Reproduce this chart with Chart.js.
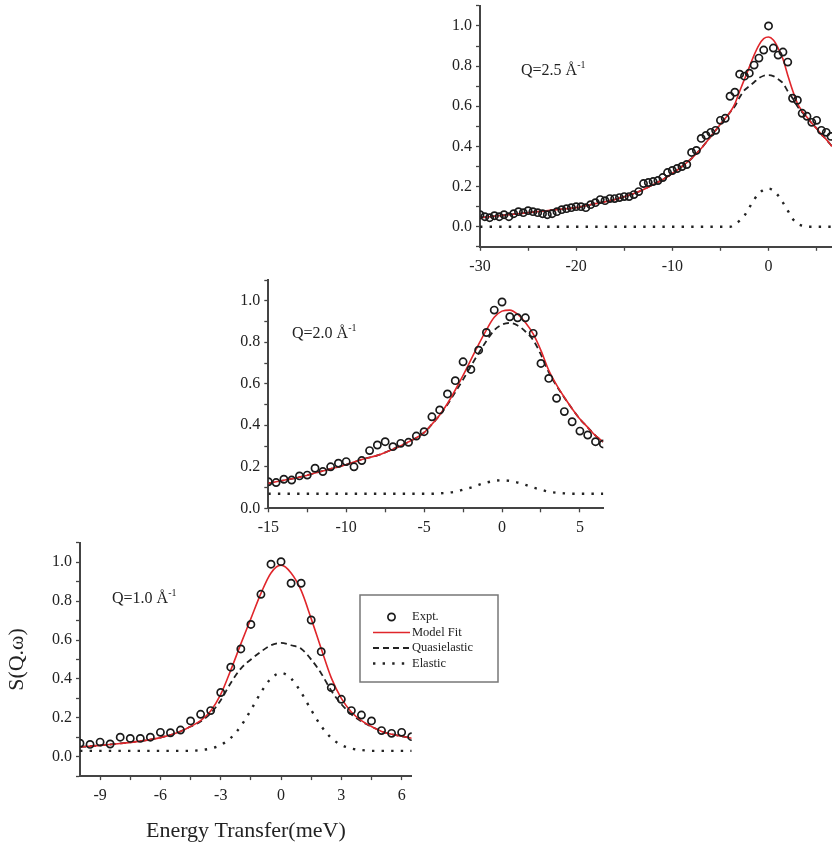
<!DOCTYPE html>
<html><head><meta charset="utf-8">
<script src="https://cdn.jsdelivr.net/npm/chart.js@4.4.1/dist/chart.umd.min.js"></script>
<style>
html,body{margin:0;padding:0;background:#fff;width:832px;height:848px;overflow:hidden;position:relative;}
canvas{position:absolute;}
.qlab{position:absolute;font-family:"Liberation Serif",serif;font-size:16px;color:#222;white-space:nowrap;line-height:16px;}
.qlab sup{font-size:10px;line-height:0;position:relative;top:-1px;}
</style></head><body>
<canvas id="c1" width="412" height="290" style="left:420px;top:-10px"></canvas>
<canvas id="c2" width="420" height="280" style="left:200px;top:260px"></canvas>
<canvas id="c3" width="520" height="318" style="left:0px;top:530px"></canvas>
<div class="qlab" style="left:521px;top:62px">Q=2.5 Å<sup>-1</sup></div>
<div class="qlab" style="left:292px;top:325px">Q=2.0 Å<sup>-1</sup></div>
<div class="qlab" style="left:112px;top:590px">Q=1.0 Å<sup>-1</sup></div>
<script>
// ---------- Q = 2.5 Å-1 ----------
const q25_energy = [-30,-29.5,-29,-28.5,-28,-27.5,-27,-26.5,-26,-25.5,-25,-24.5,-24,-23.5,-23,-22.5,-22,-21.5,-21,-20.5,-20,-19.5,-19,-18.5,-18,-17.5,-17,-16.5,-16,-15.5,-15,-14.5,-14,-13.5,-13,-12.5,-12,-11.5,-11,-10.5,-10,-9.5,-9,-8.5,-8,-7.5,-7,-6.5,-6,-5.5,-5,-4.5,-4,-3.5,-3,-2.5,-2,-1.5,-1,-0.5,0,0.5,1,1.5,2,2.5,3,3.5,4,4.5,5,5.5,6,6.5];
const q25_expt = [0.06,0.05,0.045,0.055,0.05,0.06,0.05,0.065,0.075,0.07,
  0.08,0.075,0.07,0.065,0.06,0.065,0.075,0.085,0.09,0.095,
  0.1,0.1,0.095,0.11,0.12,0.135,0.13,0.14,0.14,0.145,
  0.15,0.15,0.16,0.175,0.215,0.22,0.225,0.23,0.245,0.27,
  0.28,0.29,0.3,0.31,0.37,0.38,0.44,0.455,0.47,0.48,
  0.53,0.54,0.65,0.67,0.76,0.75,0.765,0.805,0.84,0.88,
  1.0,0.89,0.855,0.87,0.82,0.64,0.63,0.565,0.55,0.52,
  0.53,0.48,0.47,0.45];
const q25_fitEnergy = [-30,-28,-26,-24,-22,-20,-18,-16,-14,-13,-12,-11,-10,-9,-8,-7,-6,-5,-4.5,-4,-3.5,-3,-2.5,-2,-1.5,-1,-0.5,0,0.5,1,1.5,2,2.5,3,3.5,4,4.5,5,5.5,6,6.6];
const q25_fit = [0.045,0.055,0.065,0.075,0.085,0.095,0.115,0.135,0.165,0.185,0.21,0.235,0.265,0.3,0.34,0.39,0.45,0.51,0.54,0.57,0.612,0.675,0.735,0.795,0.855,0.905,0.937,0.945,0.93,0.89,0.835,0.755,0.68,0.615,0.575,0.545,0.515,0.49,0.46,0.435,0.40];
const q25_quasi = [0.045,0.055,0.065,0.075,0.085,0.095,0.115,0.135,0.165,0.185,0.21,0.235,0.265,0.3,0.34,0.39,0.45,0.51,0.54,0.57,0.6,0.645,0.68,0.70,0.72,0.74,0.752,0.755,0.75,0.735,0.715,0.675,0.64,0.6,0.57,0.545,0.515,0.49,0.46,0.435,0.40];
const q25_elastic = [0,0,0,0,0,0,0,0,0,0,0,0,0,0,0,0,0,0,0,0,0.012,0.03,0.055,0.095,0.135,0.165,0.185,0.19,0.18,0.155,0.12,0.08,0.04,0.015,0.005,0,0,0,0,0,0];
const q25_xTicks = [-30,-25,-20,-15,-10,-5,0,5];
const q25_xLabels = ['-30','','-20','','-10','','0',''];

// ---------- Q = 2.0 Å-1 ----------
const q20_energy = [-15,-14.5,-14,-13.5,-13,-12.5,-12,-11.5,-11,-10.5,-10,-9.5,-9,-8.5,-8,-7.5,-7,-6.5,-6,-5.5,-5,-4.5,-4,-3.5,-3,-2.5,-2,-1.5,-1,-0.5,0,0.5,1,1.5,2,2.5,3,3.5,4,4.5,5,5.5,6,6.5];
const q20_expt = [0.128,0.124,0.14,0.136,0.156,0.16,0.193,0.177,0.20,0.217,0.225,0.20,0.23,0.278,0.305,0.321,0.297,0.313,0.318,0.348,0.369,0.441,0.474,0.551,0.615,0.706,0.669,0.762,0.847,0.955,0.994,0.923,0.918,0.918,0.843,0.698,0.626,0.53,0.466,0.417,0.372,0.353,0.321,0.31];
const q20_fitEnergy = [-15,-14,-13,-12,-11,-10,-9,-8,-7,-6,-5,-4.5,-4,-3.5,-3,-2.5,-2,-1.5,-1,-0.5,0,0.5,1,1.5,2,2.5,3,3.5,4,4.5,5,5.5,6,6.5];
const q20_fit = [0.12,0.135,0.15,0.17,0.19,0.21,0.235,0.255,0.285,0.32,0.365,0.405,0.45,0.505,0.57,0.64,0.715,0.79,0.86,0.92,0.95,0.955,0.935,0.895,0.84,0.76,0.665,0.595,0.535,0.48,0.43,0.39,0.35,0.32];
const q20_quasi = [0.12,0.135,0.15,0.17,0.19,0.21,0.235,0.255,0.285,0.32,0.365,0.405,0.448,0.5,0.56,0.62,0.685,0.747,0.806,0.858,0.885,0.893,0.881,0.852,0.81,0.74,0.655,0.59,0.533,0.48,0.43,0.39,0.35,0.32];
const q20_elastic = [0.07,0.07,0.07,0.07,0.07,0.07,0.07,0.07,0.07,0.07,0.07,0.07,0.072,0.075,0.08,0.09,0.1,0.113,0.124,0.132,0.135,0.132,0.124,0.113,0.1,0.09,0.08,0.075,0.072,0.07,0.07,0.07,0.07,0.07];
const q20_xTicks = [-15,-12.5,-10,-7.5,-5,-2.5,0,2.5,5];
const q20_xLabels = ['-15','','-10','','-5','','0','','5'];

// ---------- Q = 1.0 Å-1 ----------
const q10_energy = [-10,-9.5,-9,-8.5,-8,-7.5,-7,-6.5,-6,-5.5,-5,-4.5,-4,-3.5,-3,-2.5,-2,-1.5,-1,-0.5,0,0.5,1,1.5,2,2.5,3,3.5,4,4.5,5,5.5,6,6.5];
const q10_expt = [0.069,0.063,0.075,0.065,0.10,0.094,0.094,0.10,0.125,0.123,0.137,0.184,0.218,0.237,0.33,0.46,0.554,0.68,0.835,0.99,1.003,0.892,0.892,0.703,0.54,0.355,0.295,0.237,0.214,0.184,0.134,0.12,0.125,0.103];
const q10_fitEnergy = [-10,-9,-8,-7,-6,-5,-4.5,-4,-3.5,-3,-2.5,-2,-1.5,-1,-0.5,0,0.5,1,1.5,2,2.5,3,3.5,4,4.5,5,5.5,6,6.5];
const q10_fit = [0.05,0.058,0.068,0.08,0.098,0.13,0.155,0.185,0.235,0.32,0.445,0.58,0.71,0.84,0.945,0.985,0.945,0.855,0.71,0.555,0.405,0.3,0.23,0.185,0.155,0.13,0.115,0.105,0.095];
const q10_quasi = [0.05,0.058,0.068,0.08,0.098,0.13,0.155,0.181,0.223,0.29,0.379,0.453,0.50,0.54,0.573,0.585,0.573,0.555,0.50,0.428,0.339,0.27,0.218,0.181,0.155,0.13,0.115,0.105,0.095];
const q10_elastic = [0.03,0.03,0.03,0.03,0.03,0.03,0.03,0.034,0.042,0.06,0.096,0.157,0.24,0.33,0.402,0.43,0.402,0.33,0.24,0.157,0.096,0.06,0.042,0.034,0.03,0.03,0.03,0.03,0.03];
const q10_xTicks = [-9,-7.5,-6,-4.5,-3,-1.5,0,1.5,3,4.5,6];
const q10_xLabels = ['-9','','-6','','-3','','0','','3','','6'];

// ---------- shared y ticks ----------
const yTickValues = [-0.1,0,0.1,0.2,0.3,0.4,0.5,0.6,0.7,0.8,0.9,1.0,1.1];
const yTickLabels = ['','0.0','','0.2','','0.4','','0.6','','0.8','','1.0',''];

const seriesNames = ['Expt.','Model Fit','Quasielastic','Elastic'];
const xTitle = 'Energy Transfer(meV)';
const yTitle = 'S(Q.\u03c9)';

const SERIF = '"Liberation Serif","DejaVu Serif",serif';
const INK = '#222';
const AXIS = '#444';
const RED = '#e0262b';

function pts(xs, ys){ return xs.map((x,i)=>({x:x, y:ys[i]})); }
function lookup(vals, labels, v){
  for(let i=0;i<vals.length;i++){ if(Math.abs(vals[i]-v)<1e-6) return labels[i]; }
  return '';
}

const legendPlugin = {
  id:'boxLegend',
  afterDraw(chart, args, opts){
    if(!opts || !opts.show) return;
    const ctx = chart.ctx;
    const ds = chart.data.datasets;
    const L = opts.left, T = opts.top, W = opts.width, H = opts.height;
    ctx.save();
    ctx.strokeStyle = '#777'; ctx.lineWidth = 1.5;
    ctx.strokeRect(L, T, W, H);
    ctx.font = '12.5px ' + SERIF;
    ctx.fillStyle = INK;
    ctx.textBaseline = 'middle';
    const sx0 = L + 13, sx1 = L + 50, tx = L + 52;
    ds.forEach((d, i) => {
      const y = T + opts.firstRow + i * opts.rowGap;
      ctx.save();
      if(d.showLine === false){
        ctx.beginPath(); ctx.arc((sx0+sx1)/2, y, d.pointRadius, 0, Math.PI*2);
        ctx.strokeStyle = d.borderColor; ctx.lineWidth = d.borderWidth; ctx.stroke();
      } else {
        ctx.beginPath(); ctx.setLineDash(d.borderDash || []);
        ctx.strokeStyle = d.borderColor; ctx.lineWidth = d.borderWidth;
        ctx.moveTo(sx0, y); ctx.lineTo(sx1, y); ctx.stroke();
      }
      ctx.restore();
      ctx.fillText(d.label, tx, y);
    });
    ctx.restore();
  }
};

function makePanel(id, p){
  const datasets = [
    {label:seriesNames[0], data:pts(p.energy,p.expt), showLine:false, pointRadius:3.6, pointHoverRadius:3.6,
     pointStyle:'circle', borderColor:'#1a1a1a', backgroundColor:'rgba(0,0,0,0)', borderWidth:1.7, order:0},
    {label:seriesNames[1], data:pts(p.fitE,p.fit), showLine:true, pointRadius:0, borderColor:RED, borderWidth:1.6,
     cubicInterpolationMode:'monotone', fill:false, order:1},
    {label:seriesNames[2], data:pts(p.fitE,p.quasi), showLine:true, pointRadius:0, borderColor:'#222', borderWidth:1.8,
     borderDash:[6,4], cubicInterpolationMode:'monotone', fill:false, order:2},
    {label:seriesNames[3], data:pts(p.fitE,p.elastic), showLine:true, pointRadius:0, borderColor:'#222', borderWidth:2.4,
     borderDash:[2.4,7.2], cubicInterpolationMode:'monotone', fill:false, order:3}
  ];
  new Chart(document.getElementById(id), {
    type:'scatter',
    data:{datasets},
    plugins:[legendPlugin],
    options:{
      responsive:false, animation:false, events:[],
      layout:{padding:p.padding, autoPadding:false},
      plugins:{legend:{display:false}, tooltip:{enabled:false}, boxLegend:p.legend || {show:false}},
      scales:{
        x:{type:'linear', min:p.xmin, max:p.xmax,
          afterBuildTicks(s){ s.ticks = p.xTicks.filter(v=>v>=p.xmin && v<=p.xmax).map(v=>({value:v})); },
          afterFit(s){ s.height = p.xHeight; s.paddingLeft = 0; s.paddingRight = 0; },
          ticks:{autoSkip:false, maxRotation:0, padding:6, color:INK, font:{family:SERIF, size:16},
            callback:(v)=>lookup(p.xTicks, p.xLabels, v)},
          grid:{display:true, drawOnChartArea:false, drawTicks:true, tickLength:4, tickColor:AXIS, tickWidth:1.3},
          border:{display:true, color:AXIS, width:2},
          title:{display:!!p.titles, text:xTitle, color:INK, font:{family:SERIF, size:22}, padding:{top:6, bottom:4}}
        },
        y:{type:'linear', min:p.ymin, max:p.ymax,
          afterBuildTicks(s){ s.ticks = yTickValues.filter(v=>v>=p.ymin-1e-9 && v<=p.ymax+1e-9).map(v=>({value:v})); },
          afterFit(s){ s.width = p.yWidth; s.paddingTop = 0; s.paddingBottom = 0; },
          ticks:{autoSkip:false, padding:4, color:INK, font:{family:SERIF, size:16},
            callback:(v)=>lookup(yTickValues, yTickLabels, v)},
          grid:{display:true, drawOnChartArea:false, drawTicks:true, tickLength:4, tickColor:AXIS, tickWidth:1.3},
          border:{display:true, color:AXIS, width:2},
          title:{display:!!p.titles, text:yTitle, color:INK, font:{family:SERIF, size:22}, padding:{top:4, bottom:2}}
        }
      }
    }
  });
}

makePanel('c1', {energy:q25_energy, expt:q25_expt, fitE:q25_fitEnergy, fit:q25_fit, quasi:q25_quasi, elastic:q25_elastic,
  xmin:-30, xmax:6.6, ymin:-0.1, ymax:1.1, xTicks:q25_xTicks, xLabels:q25_xLabels,
  padding:{top:15.9, right:0, left:0, bottom:0}, yWidth:60, xHeight:33.2});
makePanel('c2', {energy:q20_energy, expt:q20_expt, fitE:q20_fitEnergy, fit:q20_fit, quasi:q20_quasi, elastic:q20_elastic,
  xmin:-15, xmax:6.5, ymin:0, ymax:1.1, xTicks:q20_xTicks, xLabels:q20_xLabels,
  padding:{top:20, right:16.7, left:0, bottom:0}, yWidth:68.3, xHeight:31.7});
makePanel('c3', {energy:q10_energy, expt:q10_expt, fitE:q10_fitEnergy, fit:q10_fit, quasi:q10_quasi, elastic:q10_elastic,
  xmin:-10, xmax:6.5, ymin:-0.1, ymax:1.1, xTicks:q10_xTicks, xLabels:q10_xLabels,
  padding:{top:12.8, right:108.3, left:0, bottom:0}, yWidth:80, xHeight:71.9, titles:true,
  legend:{show:true, left:360, top:65, width:138, height:87, firstRow:22, rowGap:15.5}});
</script>
</body></html>
